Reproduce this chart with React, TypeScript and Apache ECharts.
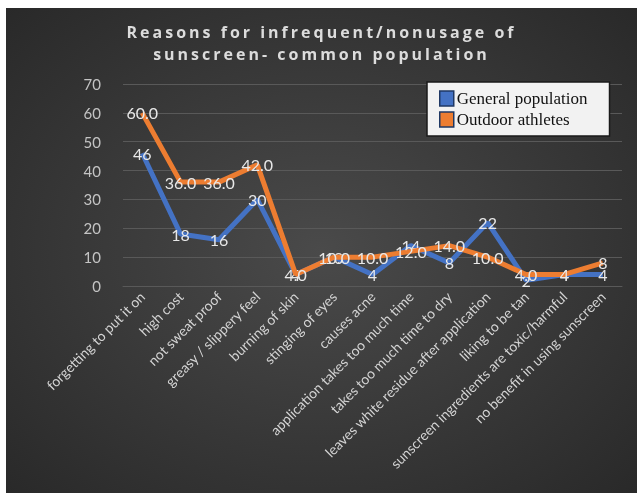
import React, { useEffect, useRef } from "react";
import * as echarts from "echarts";

const categories = [
  "forgetting to put it on",
  "high cost",
  "not sweat proof",
  "greasy / slippery feel",
  "burning of skin",
  "stinging of eyes",
  "causes acne",
  "application takes too much time",
  "takes too much time to dry",
  "leaves white residue after application",
  "liking to be tan",
  "sunscreen ingredients are toxic/harmful",
  "no benefit in using sunscreen",
];

const generalPopulation = [46, 18, 16, 30, 4, 10, 4, 14, 8, 22, 2, 4, 4];
const outdoorAthletes = [60, 36, 36, 42, 4, 10, 10, 12, 14, 10, 4, 4, 8];

// the last two athlete labels are shown without a decimal place
const athleteDecimals = [1, 1, 1, 1, 1, 1, 1, 1, 1, 1, 1, 0, 0];

const yTicks = { min: 0, max: 70, interval: 10 };

const titleLines = ["Reasons for infrequent/nonusage of", "sunscreen- common population"];

// the title is the only text set in Open Sans; give it wide tracking
const titleCss = `
#root svg text[style*="Open Sans"],
#root svg text[font-family*="Open Sans"] { letter-spacing: 3px; }
`;

export default function App() {
  const ref = useRef<HTMLDivElement>(null);

  useEffect(() => {
    if (!ref.current) return;
    const chart = echarts.init(ref.current, undefined, { renderer: "svg" });
    const labelStyle = {
      show: true,
      position: "inside" as const,
      color: "#e8e8e8",
      fontFamily: "Lato",
      fontSize: 16,
    };
    chart.setOption({
      animation: false,
      backgroundColor: {
        type: "radial",
        x: 0.5,
        y: 0.5,
        r: 0.75,
        colorStops: [
          { offset: 0, color: "#4a4a4a" },
          { offset: 1, color: "#272727" },
        ],
      },
      title: {
        text: titleLines.join("\n"),
        left: "center",
        top: 8,
        textStyle: {
          color: "#dcdcdc",
          fontFamily: "Open Sans",
          fontWeight: "bold",
          fontSize: 16,
          lineHeight: 22,
        },
      },
      legend: {
        orient: "vertical",
        left: 421,
        top: 74,
        backgroundColor: "#f2f2f2",
        borderColor: "#1a1a1a",
        borderWidth: 1.5,
        padding: [8, 22, 8, 12],
        itemGap: 4,
        itemWidth: 14,
        itemHeight: 15,
        icon: "rect",
        itemStyle: { borderColor: "#1f3864", borderWidth: 1.5 },
        textStyle: {
          fontFamily: "Liberation Serif",
          fontSize: 17,
          color: "#111111",
          padding: [0, 0, 0, -2],
        },
        data: ["General population", "Outdoor athletes"],
      },
      grid: { left: 117, right: 15, top: 76, bottom: 207 },
      xAxis: {
        type: "category",
        data: categories,
        boundaryGap: true,
        axisLine: { lineStyle: { color: "#595959", width: 1 } },
        axisTick: { show: false },
        axisLabel: {
          rotate: 45,
          interval: 0,
          color: "#d4d4d4",
          fontFamily: "Lato",
          fontSize: 14,
          margin: 8,
        },
      },
      yAxis: {
        type: "value",
        min: yTicks.min,
        max: yTicks.max,
        interval: yTicks.interval,
        axisLine: { show: false },
        axisTick: { show: false },
        splitLine: { lineStyle: { color: "#595959", width: 1 } },
        axisLabel: {
          color: "#c4c4c4",
          fontFamily: "Lato",
          fontSize: 15,
          margin: 22,
        },
      },
      series: [
        {
          name: "General population",
          type: "line",
          data: generalPopulation,
          symbol: "circle",
          symbolSize: 0,
          showSymbol: true,
          lineStyle: { color: "#4472c4", width: 5 },
          itemStyle: { color: "#4472c4" },
          label: { ...labelStyle, formatter: (p: any) => String(p.value) },
          z: 2,
        },
        {
          name: "Outdoor athletes",
          type: "line",
          data: outdoorAthletes,
          symbol: "circle",
          symbolSize: 0,
          showSymbol: true,
          lineStyle: { color: "#ed7d31", width: 5 },
          itemStyle: { color: "#ed7d31" },
          label: {
            ...labelStyle,
            formatter: (p: any) =>
              Number(p.value).toFixed(athleteDecimals[p.dataIndex]),
          },
          z: 3,
        },
      ],
    });
    return () => chart.dispose();
  }, []);

  return (
    <>
      <style>{titleCss}</style>
      <div
        ref={ref}
        style={{ position: "fixed", left: 6, top: 8, width: 631, height: 485 }}
      />
    </>
  );
}
